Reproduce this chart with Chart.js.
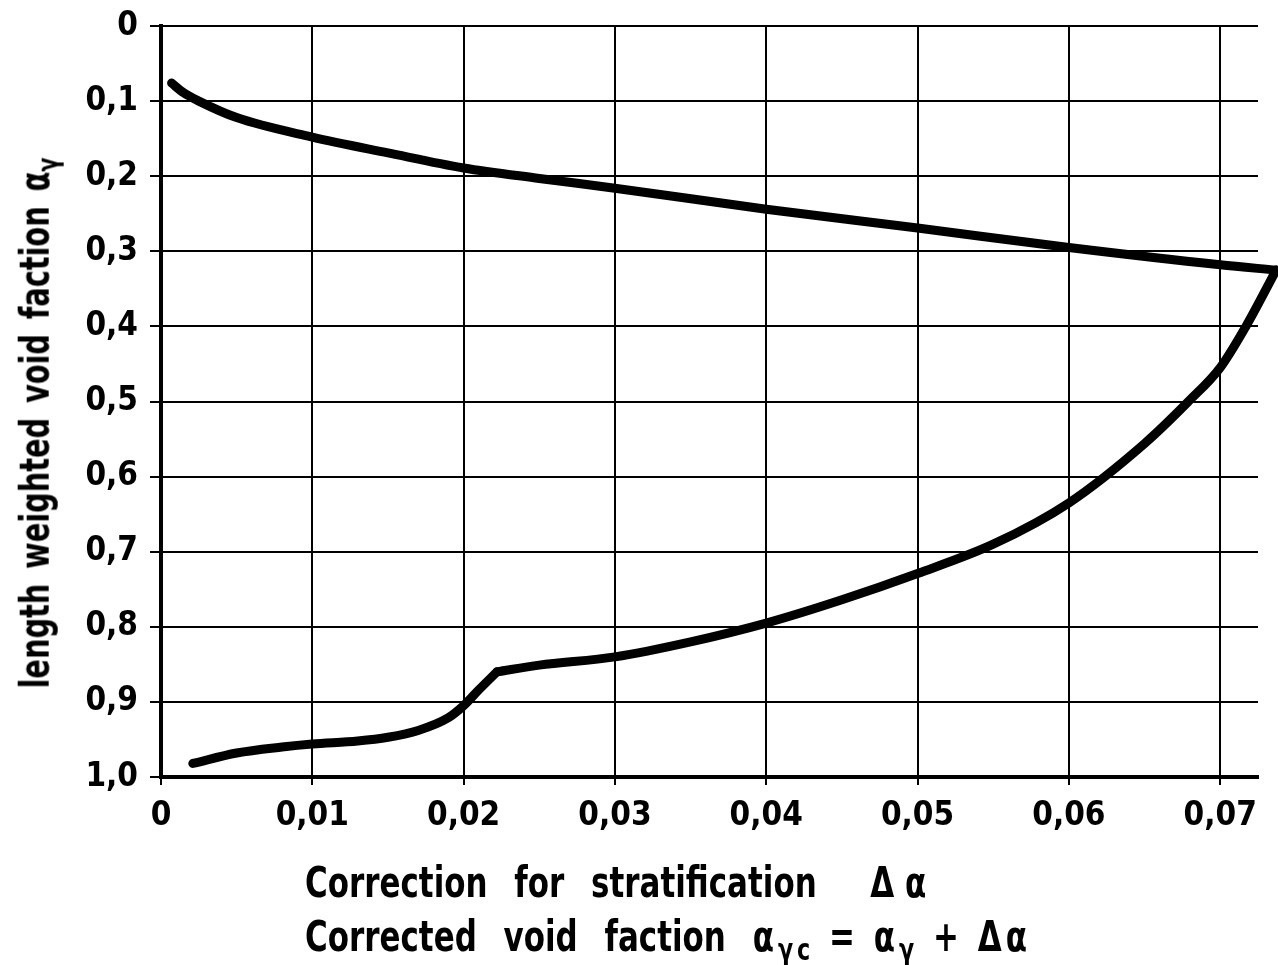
<!DOCTYPE html>
<html>
<head>
<meta charset="utf-8">
<script src="https://cdn.jsdelivr.net/npm/chart.js@4"></script>
<style>
  body { margin: 0; background: #fff; }
  #wrap { position: relative; width: 1278px; height: 965px; }
  .title { position: absolute; font-family: 'DejaVu Sans Condensed', 'DejaVu Sans'; font-weight: bold; color: #000; white-space: nowrap; }
  #xtitle { left: 305px; top: 855px; font-size: 43px; line-height: 54px; word-spacing: 20px; transform: scaleX(0.8); transform-origin: 0 0; }
  #ytitle { left: 38px; top: 423px; font-size: 40px; word-spacing: 6px; transform: translate(-50%, -50%) rotate(-90deg) scaleX(0.8); }
  .eq { word-spacing: 0; letter-spacing: 5px; }
  .da { word-spacing: 0; }
  sub { font-size: 72%; vertical-align: -0.3em; }
</style>
</head>
<body>
<div id="wrap">
  <canvas id="chart" width="1278" height="965"></canvas>
  <div id="ytitle" class="title">length weighted void faction α<sub>γ</sub></div>
  <div id="xtitle" class="title">Correction for stratification &nbsp;<span class="da">Δ α</span><br>Corrected void faction <span class="eq">α<sub>γc</sub> = α<sub>γ</sub> + Δα</span></div>
</div>
<script>
// Ticks
const xTicks = [0, 0.01, 0.02, 0.03, 0.04, 0.05, 0.06, 0.07];
const xTickLabels = ['0', '0,01', '0,02', '0,03', '0,04', '0,05', '0,06', '0,07'];
const yTicks = [0, 0.1, 0.2, 0.3, 0.4, 0.5, 0.6, 0.7, 0.8, 0.9, 1.0];
const yTickLabels = ['0', '0,1', '0,2', '0,3', '0,4', '0,5', '0,6', '0,7', '0,8', '0,9', '1,0'];

// upper branch
const upperX = [0.0007, 0.0015, 0.0025, 0.005, 0.01, 0.015, 0.02, 0.025, 0.03, 0.04, 0.05, 0.06, 0.07, 0.0737];
const upperY = [0.076, 0.089, 0.100, 0.122, 0.148, 0.169, 0.189, 0.203, 0.216, 0.244, 0.269, 0.295, 0.318, 0.325];

// lower branch, left of the kink
const lowerLeftX = [0.0021, 0.005, 0.008, 0.01, 0.013, 0.015, 0.017, 0.019, 0.02, 0.021, 0.0222];
const lowerLeftY = [0.982, 0.968, 0.960, 0.956, 0.952, 0.947, 0.938, 0.921, 0.905, 0.884, 0.860];

// lower branch, kink up to the join
const lowerRightX = [0.0222, 0.025, 0.03, 0.035, 0.04, 0.045, 0.05, 0.055, 0.06, 0.065, 0.0679, 0.07, 0.0717, 0.0737];
const lowerRightY = [0.860, 0.851, 0.840, 0.820, 0.795, 0.764, 0.729, 0.690, 0.635, 0.556, 0.500, 0.455, 0.400, 0.325];

const toPoints = (xs, ys) => xs.map((x, i) => ({ x: x, y: ys[i] }));

const lineStyle = {
  borderColor: '#000',
  borderWidth: 9,
  borderCapStyle: 'round',
  borderJoinStyle: 'round',
  pointRadius: 0,
  showLine: true,
  fill: false,
  cubicInterpolationMode: 'monotone',
  clip: false
};

const tickFont = { family: "'DejaVu Sans Condensed', 'DejaVu Sans'", size: 33, weight: 'bold' };

const ctx = document.getElementById('chart').getContext('2d');

new Chart(ctx, {
  type: 'line',
  data: {
    datasets: [
      Object.assign({ data: toPoints(upperX, upperY) }, lineStyle),
      Object.assign({ data: toPoints(lowerLeftX, lowerLeftY) }, lineStyle),
      Object.assign({ data: toPoints(lowerRightX, lowerRightY) }, lineStyle)
    ]
  },
  options: {
    responsive: false,
    animation: false,
    layout: { padding: { top: 26, right: 20, left: 0, bottom: 0 } },
    plugins: {
      legend: { display: false },
      tooltip: { enabled: false }
    },
    scales: {
      x: {
        type: 'linear',
        min: 0,
        max: 0.0725,
        afterBuildTicks: (scale) => { scale.ticks = xTicks.map(v => ({ value: v })); },
        afterFit: (scale) => { scale.height = 188; scale.paddingLeft = 0; scale.paddingRight = 0; },
        ticks: {
          color: '#000',
          font: tickFont,
          padding: 12,
          maxRotation: 0,
          callback: (value) => xTickLabels[xTicks.indexOf(value)]
        },
        grid: { color: '#000', lineWidth: 2, tickLength: 8 },
        border: { display: true, color: '#000', width: 4 }
      },
      y: {
        type: 'linear',
        reverse: true,
        min: 0,
        max: 1.0,
        afterBuildTicks: (scale) => { scale.ticks = yTicks.map(v => ({ value: v })); },
        afterFit: (scale) => { scale.width = 161; scale.paddingTop = 0; scale.paddingBottom = 0; },
        ticks: {
          color: '#000',
          font: tickFont,
          padding: 12,
          callback: (value) => yTickLabels[yTicks.indexOf(value)]
        },
        grid: { color: '#000', lineWidth: 2, tickLength: 11 },
        border: { display: true, color: '#000', width: 4 }
      }
    }
  }
});
</script>
</body>
</html>
